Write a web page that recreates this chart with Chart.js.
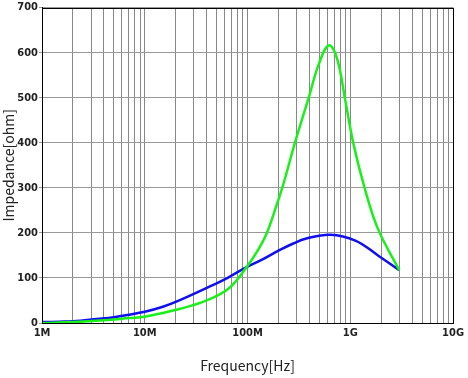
<!DOCTYPE html>
<html>
<head>
<meta charset="utf-8">
<script src="https://cdn.jsdelivr.net/npm/chart.js@4"></script>
<style>
  html, body { margin: 0; padding: 0; background: #fff; }
  #wrap { width: 468px; height: 378px; }
</style>
</head>
<body>
<div id="wrap"><canvas id="chart" width="468" height="378"></canvas></div>
<script>
// values
const blueFreq = [1e6, 1.5e6, 2e6, 3.4e6, 5e6, 10e6, 15e6, 21.7e6, 50e6, 66e6, 98e6, 140e6, 202e6, 282e6, 367e6, 640e6, 1.12e9, 1.86e9, 3.0e9];
const blueOhm = [2, 3, 4, 9, 13, 25, 36, 50, 88, 102, 124, 141, 161, 177, 187, 196, 183, 150, 117];

const greenFreq = [1e6, 2e6, 4e6, 7.1e6, 10e6, 21.7e6, 40e6, 66e6, 98e6, 125e6, 153e6, 192e6, 221e6, 293e6, 394e6, 493e6, 617e6, 741e6, 894e6, 1.075e9, 1.374e9, 1.85e9, 3.0e9];
const greenOhm = [0, 2, 6, 11, 14, 31, 50, 77, 124, 160, 198, 262, 305, 404, 500, 574, 616, 588, 494, 397, 301, 210, 117];

const xMin = 1e6;
const xMax = 1e10;
const xTickLabels = { 1e6: "1M", 1e7: "10M", 1e8: "100M", 1e9: "1G", 1e10: "10G" };
const yMax = 700;

const tickFont = { family: "'Liberation Sans Narrow', 'DejaVu Sans Condensed', sans-serif", size: 11, weight: "bold" };
const titleFont = { family: "'Noto Sans CJK JP', sans-serif", size: 14 };

function toPoints(xs, ys) {
  return xs.map((x, i) => ({ x: x, y: ys[i] }));
}

const frameBox = {
  id: "frameBox",
  afterDraw(chart) {
    const a = chart.chartArea;
    const ctx = chart.ctx;
    ctx.save();
    ctx.strokeStyle = "#000";
    ctx.lineWidth = 1;
    ctx.strokeRect(Math.round(a.left) + 0.5, Math.round(a.top) + 0.5, Math.round(a.right - a.left), Math.round(a.bottom - a.top));
    ctx.restore();
  },
};

new Chart(document.getElementById("chart").getContext("2d"), {
  type: "line",
  data: {
    datasets: [
      {
        label: "green",
        data: toPoints(greenFreq, greenOhm),
        borderColor: "rgb(25,240,25)",
        borderWidth: 2.5,
        pointRadius: 0,
        tension: 0.4,
        fill: false,
      },
      {
        label: "blue",
        data: toPoints(blueFreq, blueOhm),
        borderColor: "rgb(15,15,240)",
        borderWidth: 2.5,
        pointRadius: 0,
        tension: 0.4,
        fill: false,
      },
    ],
  },
  options: {
    responsive: false,
    animation: false,
    layout: { padding: { top: 6, right: 13, left: 0, bottom: 0 } },
    plugins: { legend: { display: false }, tooltip: { enabled: false } },
    scales: {
      x: {
        type: "logarithmic",
        min: xMin,
        max: xMax,
        afterBuildTicks(scale) {
          const ticks = [];
          for (let d = xMin; d < xMax; d *= 10) {
            for (let m = 1; m < 10; m++) ticks.push({ value: d * m });
          }
          ticks.push({ value: xMax });
          scale.ticks = ticks;
        },
        afterFit(scale) { scale.height = 55; },
        ticks: {
          autoSkip: false,
          maxRotation: 0,
          color: "#222",
          font: tickFont,
          padding: 4,
          callback: (v) => xTickLabels[v] || "",
        },
        grid: { color: "#888", lineWidth: 1, drawTicks: false },
        border: { color: "#000" },
        title: { display: true, text: "Frequency[Hz]", color: "#222", font: titleFont, padding: { top: 10 } },
      },
      y: {
        min: 0,
        max: yMax,
        afterFit(scale) { scale.width = 42; },
        ticks: { stepSize: 100, color: "#222", font: tickFont, padding: 1 },
        grid: { color: "#999", lineWidth: 1, tickLength: 3 },
        border: { color: "#000" },
        title: { display: true, text: "Impedance[ohm]", color: "#222", font: titleFont, padding: 0 },
      },
    },
  },
  plugins: [frameBox],
});
</script>
</body>
</html>
